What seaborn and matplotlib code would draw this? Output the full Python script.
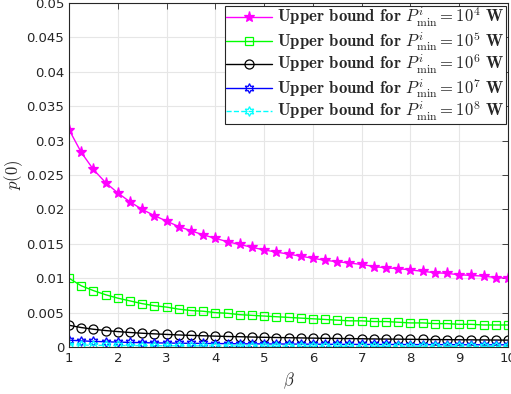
import numpy as np
import pandas as pd
import matplotlib
matplotlib.use("Agg")
import matplotlib.pyplot as plt
import seaborn as sns
from matplotlib.ticker import FuncFormatter

# Data (beta in steps of 0.25)
beta = [1.0, 1.25, 1.5, 1.75, 2.0, 2.25, 2.5, 2.75, 3.0, 3.25, 3.5, 3.75,
        4.0, 4.25, 4.5, 4.75, 5.0, 5.25, 5.5, 5.75, 6.0, 6.25, 6.5, 6.75,
        7.0, 7.25, 7.5, 7.75, 8.0, 8.25, 8.5, 8.75, 9.0, 9.25, 9.5, 9.75, 10.0]

p_1e4 = [0.0316, 0.0283, 0.0258, 0.0239, 0.0224, 0.0211, 0.0200, 0.0191,
         0.0183, 0.0175, 0.0169, 0.0163, 0.0158, 0.0153, 0.0149, 0.0145,
         0.0141, 0.0138, 0.0135, 0.0132, 0.0129, 0.0126, 0.0124, 0.0122,
         0.0120, 0.0117, 0.0115, 0.0114, 0.0112, 0.0110, 0.0108, 0.0107,
         0.0105, 0.0104, 0.0103, 0.0101, 0.0100]

p_1e5 = [0.0100, 0.0089, 0.0082, 0.0076, 0.0071, 0.0067, 0.0063, 0.0060,
         0.0058, 0.0055, 0.0053, 0.0052, 0.0050, 0.0049, 0.0047, 0.0046,
         0.0045, 0.0044, 0.0043, 0.0042, 0.0041, 0.0040, 0.0039, 0.0038,
         0.0038, 0.0037, 0.0037, 0.0036, 0.0035, 0.0035, 0.0034, 0.0034,
         0.0033, 0.0033, 0.0032, 0.0032, 0.0032]

p_1e6 = [0.00316, 0.00283, 0.00258, 0.00239, 0.00224, 0.00211, 0.00200, 0.00191,
         0.00183, 0.00175, 0.00169, 0.00163, 0.00158, 0.00153, 0.00149, 0.00145,
         0.00141, 0.00138, 0.00135, 0.00132, 0.00129, 0.00126, 0.00124, 0.00122,
         0.00120, 0.00117, 0.00115, 0.00114, 0.00112, 0.00110, 0.00108, 0.00107,
         0.00105, 0.00104, 0.00103, 0.00101, 0.00100]

p_1e7 = [0.00100, 0.00089, 0.00082, 0.00076, 0.00071, 0.00067, 0.00063, 0.00060,
         0.00058, 0.00055, 0.00053, 0.00052, 0.00050, 0.00049, 0.00047, 0.00046,
         0.00045, 0.00044, 0.00043, 0.00042, 0.00041, 0.00040, 0.00039, 0.00038,
         0.00038, 0.00037, 0.00037, 0.00036, 0.00035, 0.00035, 0.00034, 0.00034,
         0.00033, 0.00033, 0.00032, 0.00032, 0.00032]

p_1e8 = [0.000316, 0.000283, 0.000258, 0.000239, 0.000224, 0.000211, 0.000200, 0.000191,
         0.000183, 0.000175, 0.000169, 0.000163, 0.000158, 0.000153, 0.000149, 0.000145,
         0.000141, 0.000138, 0.000135, 0.000132, 0.000129, 0.000126, 0.000124, 0.000122,
         0.000120, 0.000117, 0.000115, 0.000114, 0.000112, 0.000110, 0.000108, 0.000107,
         0.000105, 0.000104, 0.000103, 0.000101, 0.000100]

exponents = [4, 5, 6, 7, 8]
series = [p_1e4, p_1e5, p_1e6, p_1e7, p_1e8]
colors = ["#ff00ff", "#00ff00", "#000000", "#0000ff", "#00ffff"]
markers = ["*", "s", "o", (6, 1, 0), (6, 1, 0)]
sizes = [8, 5.5, 6.5, 7, 7]
styles = ["-", "-", "-", "-", "--"]

# Style
sns.set_style("whitegrid")
plt.rcParams["mathtext.fontset"] = "cm"
plt.rcParams["font.family"] = ["DejaVu Sans"]

fig = plt.figure(figsize=(5.11, 3.94), dpi=100)
ax = fig.add_axes([69 / 511, 47 / 394, 439 / 511, 344 / 394])

for e, vals, c, m, ms, ls in zip(exponents, series, colors, markers, sizes, styles):
    label = r"Upper bound for $P^i_{\mathrm{min}} = 10^{%d}$ W" % e
    face = c if m == "*" else "none"
    sns.lineplot(x=beta, y=vals, ax=ax, color=c, linestyle=ls, linewidth=1,
                 marker=m, markersize=ms, markerfacecolor=face,
                 markeredgecolor=c, markeredgewidth=0.9, label=label)

ax.set_xlim(1, 10)
ax.set_ylim(0, 0.05)
ax.set_xticks(range(1, 11))
ax.set_yticks(np.arange(0, 0.0501, 0.005))
ax.yaxis.set_major_formatter(FuncFormatter(lambda v, p: "%g" % round(v, 4)))

ax.grid(True, color="#e6e6e6", linewidth=0.8)
for s in ax.spines.values():
    s.set_visible(True)
    s.set_color("#262626")
    s.set_linewidth(0.8)
ax.tick_params(direction="in", length=4, width=0.6, colors="#262626",
               labelsize=9.5, top=True, right=True, labelcolor="#262626")

ax.set_xlabel(r"$\beta$", fontsize=12, color="#262626")
ax.set_ylabel(r"$p(0)$", fontsize=12, color="#262626")
ax.yaxis.set_label_coords(-0.1, 0.5)

leg = ax.legend(loc="upper right", frameon=True, fancybox=False,
                framealpha=1, edgecolor="#262626", borderpad=0.05,
                labelspacing=0.0, handlelength=2.8, handletextpad=0.3,
                borderaxespad=0.15, prop={"family": "cmb10", "size": 12})
leg.get_frame().set_linewidth(0.8)

fig.savefig("out.png", dpi=100)
